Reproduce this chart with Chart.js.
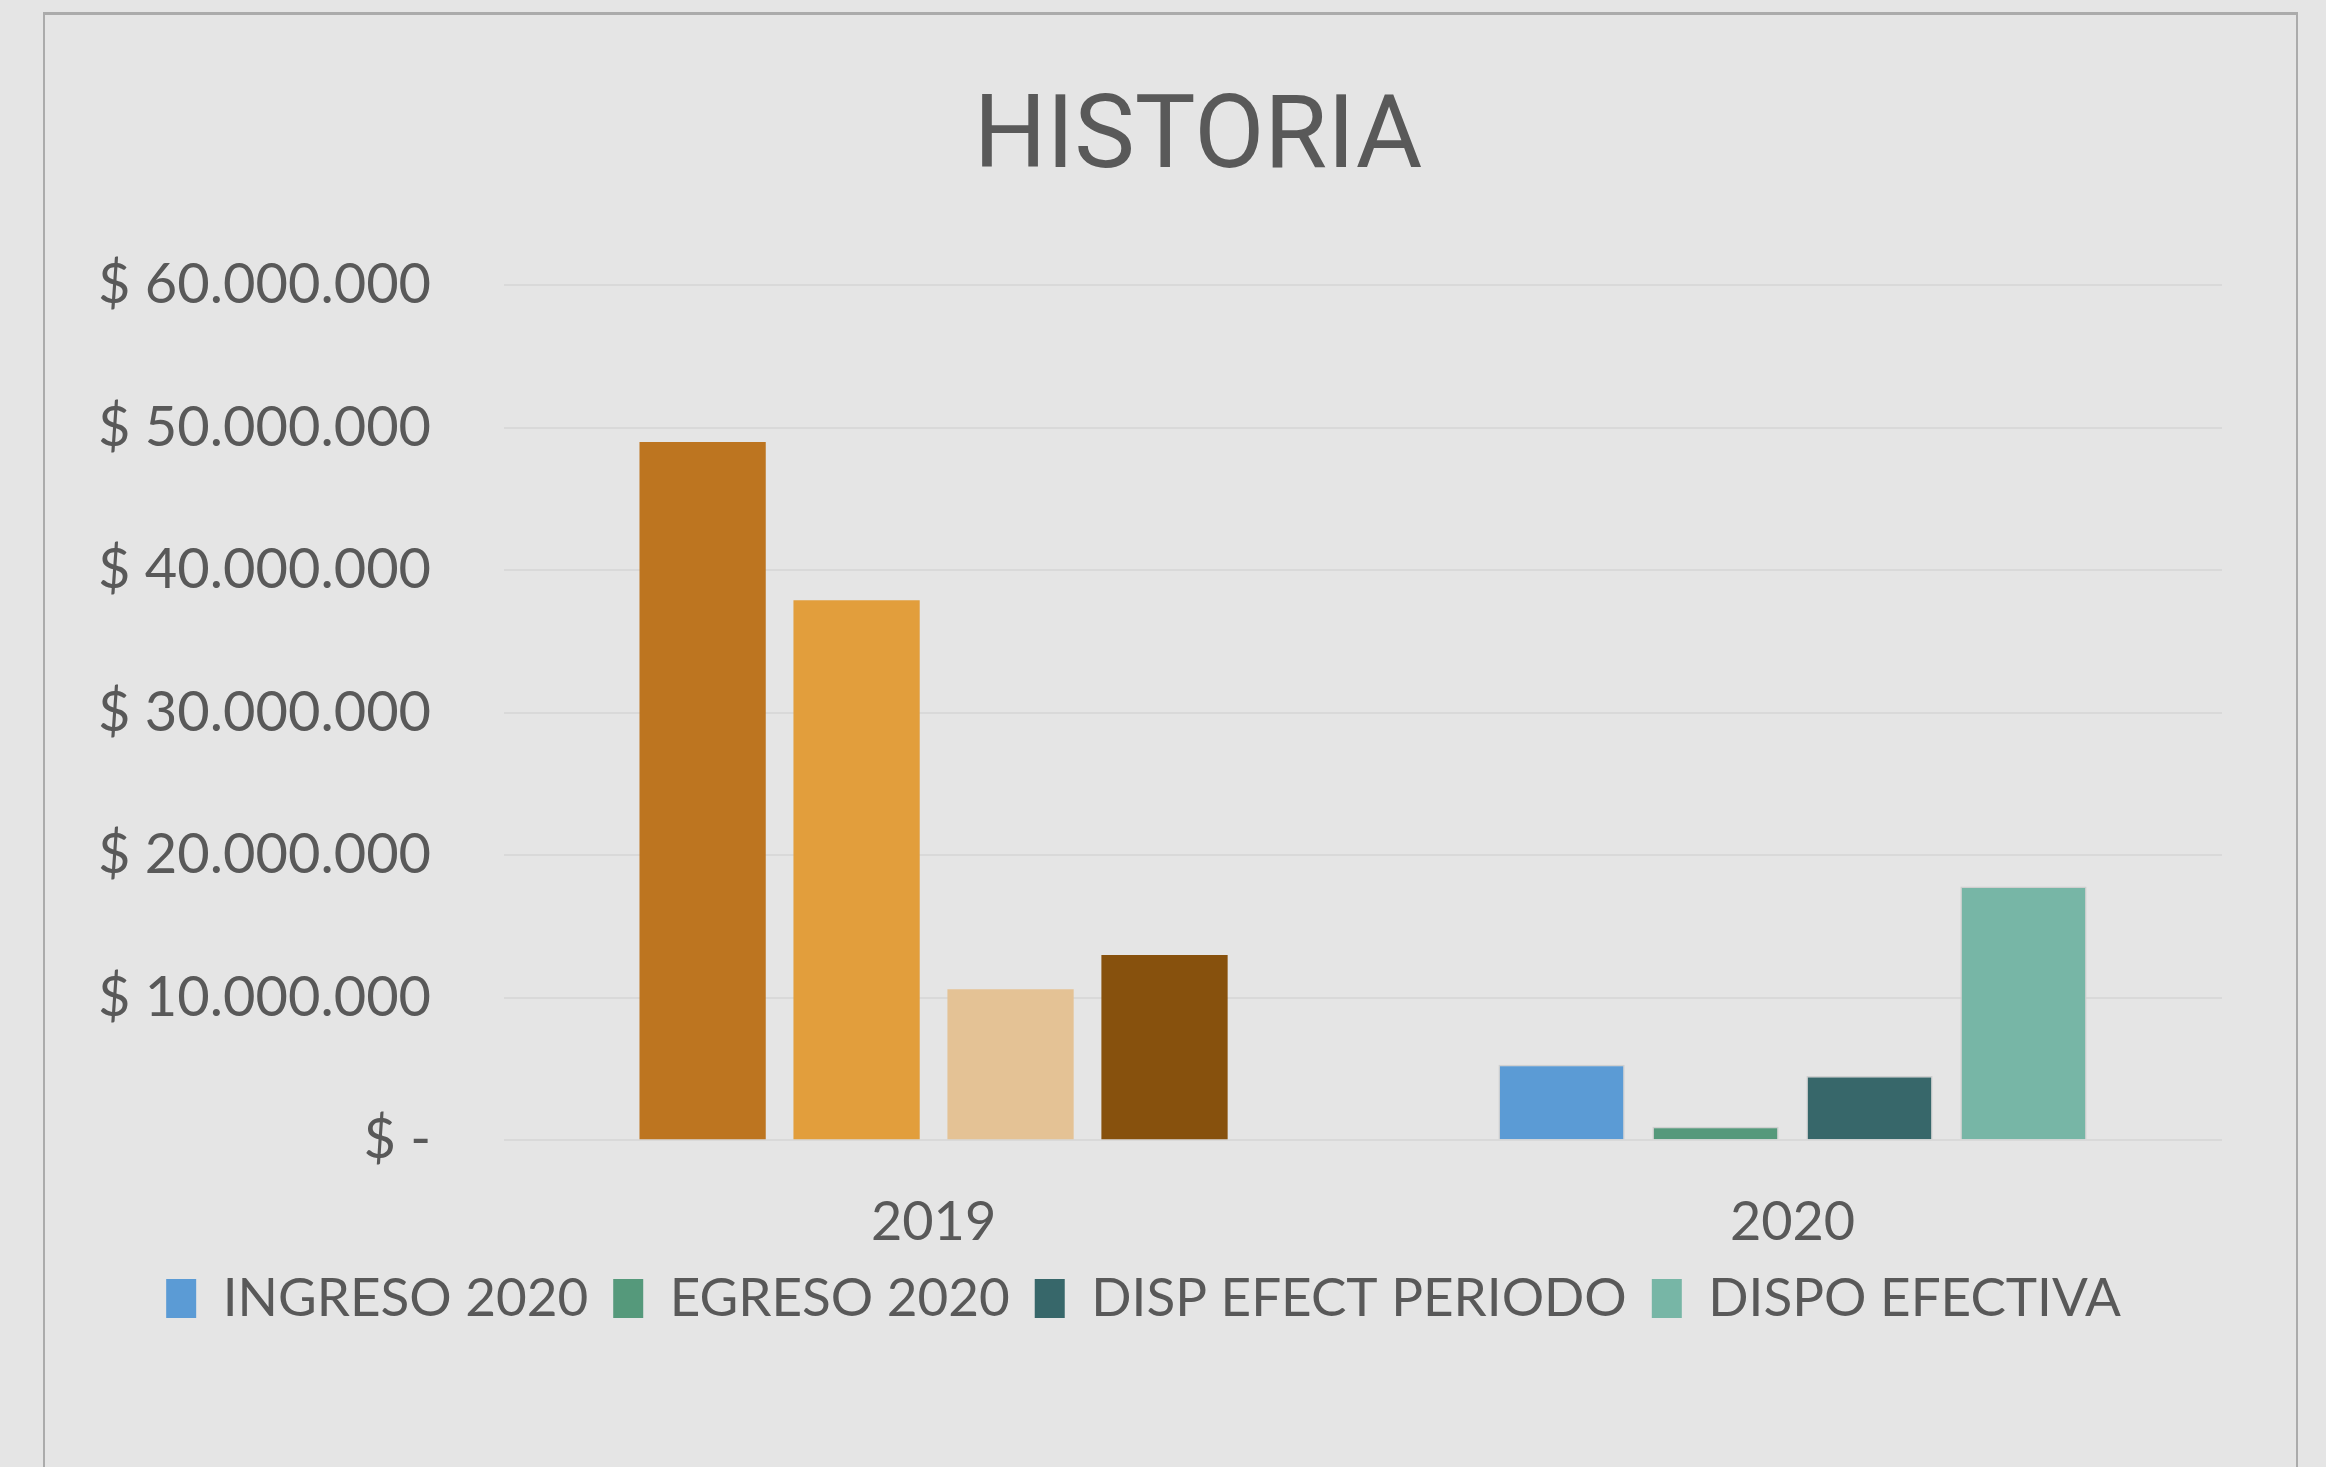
<!DOCTYPE html>
<html>
<head>
<meta charset="utf-8">
<title>HISTORIA</title>
<script src="https://cdn.jsdelivr.net/npm/chart.js@4.4.1/dist/chart.umd.min.js"></script>
<style>
    html, body { margin: 0; padding: 0; background: #e5e5e5; overflow: hidden; }
    #marco { position: absolute; left: 43px; top: 12px; width: 2251px; height: 1500px; border: 2px solid #ababab; border-top-width: 3px; }
    #contenedor { position: absolute; left: 0; top: 0; width: 2326px; height: 1467px; }
</style>
</head>
<body>
<div id="marco"></div>
<div id="contenedor"><canvas id="GraficoHistoria"></canvas></div>
<script>
const categorias = ['2019', '2020'];
const ingreso2020 = [49000000, 5300000];
const egreso2020 = [37900000, 950000];
const dispEfectPeriodo = [10600000, 4500000];
const dispoEfectiva = [13000000, 17800000];
const nombresSeries = ['INGRESO 2020', 'EGRESO 2020', 'DISP EFECT PERIODO', 'DISPO EFECTIVA'];
const etiquetasY = ['$ -', '$ 10.000.000', '$ 20.000.000', '$ 30.000.000', '$ 40.000.000', '$ 50.000.000', '$ 60.000.000'];

// colores por barra: primero 2019 (naranjas), despues 2020
const colores2019 = ['#BD7520', '#E29E3C', '#E4C295', '#87510D'];
const colores2020 = ['#5B9BD5', '#55997B', '#37676A', '#77B6A6'];
const textoGris = '#595959';

function armarDataset(i, valores) {
    return {
        label: nombresSeries[i],
        data: valores,
        backgroundColor: [colores2019[i], colores2020[i]],
        borderColor: ['rgba(0,0,0,0)', '#cfcfcf'],
        borderWidth: [0, 1.5],
        categoryPercentage: 0.717,
        barPercentage: 0.82
    };
}

// el titulo y la leyenda no quedan centrados igual que en Excel, se corren un poco
const ajusteCajas = {
    id: 'ajusteCajas',
    afterLayout(chart) {
        const titulo = chart.titleBlock;
        titulo.left += 149;
        const leyenda = chart.legend;
        leyenda.left += 20;
        leyenda.right += 20;
        leyenda.top -= 58;
        leyenda.bottom -= 58;
    }
};

function GraficoHistoria() {
    const ctx = document.getElementById('GraficoHistoria').getContext('2d');
    new Chart(ctx, {
        type: 'bar',
        data: {
            labels: categorias,
            datasets: [
                armarDataset(0, ingreso2020),
                armarDataset(1, egreso2020),
                armarDataset(2, dispEfectPeriodo),
                armarDataset(3, dispoEfectiva)
            ]
        },
        plugins: [ajusteCajas],
        options: {
            responsive: true,
            maintainAspectRatio: false,
            animation: false,
            layout: {
                padding: { left: 25, right: 104, top: 0, bottom: 74 }
            },
            plugins: {
                title: {
                    display: true,
                    text: 'HISTORIA',
                    color: textoGris,
                    font: { family: 'Roboto', size: 102, weight: 'normal' },
                    padding: { top: 80, bottom: 83 }
                },
                legend: {
                    position: 'bottom',
                    labels: {
                        color: textoGris,
                        font: { family: 'Lato', size: 53 },
                        boxWidth: 30,
                        boxHeight: 39,
                        padding: 25,
                        generateLabels: function(chart) {
                            const items = Chart.defaults.plugins.legend.labels.generateLabels(chart);
                            items.forEach(function(item, i) {
                                item.fillStyle = colores2020[i];
                                item.strokeStyle = colores2020[i];
                                item.lineWidth = 0;
                            });
                            return items;
                        }
                    }
                },
                tooltip: { enabled: false }
            },
            scales: {
                x: {
                    grid: { display: false, drawTicks: false },
                    border: { display: false },
                    ticks: {
                        color: textoGris,
                        font: { family: 'Lato', size: 54 },
                        padding: 50
                    }
                },
                y: {
                    min: 0,
                    max: 60000000,
                    grid: { color: '#d9d9d9', lineWidth: 2, drawTicks: false },
                    border: { display: false },
                    ticks: {
                        stepSize: 10000000,
                        color: textoGris,
                        font: { family: 'Lato', size: 56 },
                        padding: 73,
                        callback: function(valor) {
                            return etiquetasY[Math.round(valor / 10000000)];
                        }
                    }
                }
            }
        }
    });
}
GraficoHistoria();
</script>
</body>
</html>
